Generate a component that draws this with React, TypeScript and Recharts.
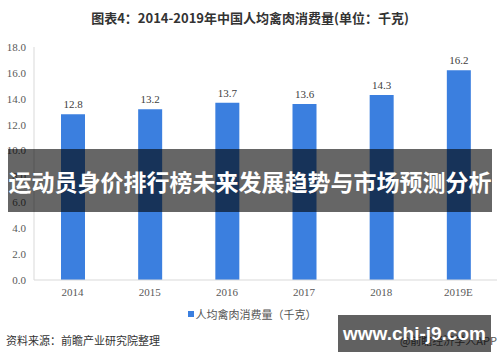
import React from "react";
import { BarChart, Bar, XAxis, YAxis, LabelList } from "recharts";

const years = ["2014", "2015", "2016", "2017", "2018", "2019E"];
const consumption = [12.8, 13.2, 13.7, 13.6, 14.3, 16.2];
const yTicks = [0, 2, 4, 6, 8, 10, 12, 14, 16, 18];
const seriesName = "人均禽肉消费量（千克）";
const titleText = "图表4：2014-2019年中国人均禽肉消费量(单位：千克)";
const sourceText = "资料来源：前瞻产业研究院整理";
const bannerText = "运动员身价排行榜未来发展趋势与市场预测分析";
const markText = "www.chi-j9.com";
const appText = "@前瞻经济学人APP";

const data = years.map((y, i) => ({ year: y, value: consumption[i] }));

const BLUE = "#3b7fdf";
const serif = "'Liberation Serif', 'DejaVu Serif', serif";
const cjk = "'Noto Sans CJK SC', 'Noto Sans', sans-serif";

export default function App() {
  return (
    <div style={{ position: "fixed", left: 0, top: 0, width: 500, height: 362, background: "#fff", overflow: "hidden" }}>
      <div style={{ position: "absolute", left: 0, top: 8, width: 500, textAlign: "center", fontFamily: cjk, fontWeight: 700, fontSize: 13, color: "#333", lineHeight: "20px" }}>
        {titleText}
      </div>
      <div style={{ position: "absolute", left: 0, top: 0 }}>
        <BarChart width={500} height={362} data={data} margin={{ top: 47, right: 3, bottom: 52, left: 0 }}>
          <XAxis
            dataKey="year"
            height={30}
            axisLine={{ stroke: "#d9d9d9" }}
            tickLine={false}
            tick={{ fontFamily: serif, fontSize: 11, fill: "#595959" }}
          />
          <YAxis
            domain={[0, 18]}
            ticks={yTicks}
            width={34}
            axisLine={{ stroke: "#d9d9d9" }}
            tickLine={false}
            tickFormatter={(v: number) => v.toFixed(1)}
            tick={{ fontFamily: serif, fontSize: 11, fill: "#595959" }}
          />
          <Bar dataKey="value" name={seriesName} fill={BLUE} barSize={24} isAnimationActive={false}>
            <LabelList dataKey="value" position="top" offset={6} style={{ fontFamily: serif, fontSize: 11, fill: "#404040" }} />
          </Bar>
        </BarChart>
      </div>
      <div style={{ position: "absolute", left: 0, top: 305, width: 504, display: "flex", justifyContent: "center", alignItems: "center", fontFamily: cjk, fontSize: 11, color: "#555", lineHeight: "18px" }}>
        <span style={{ display: "inline-block", width: 6, height: 6, background: BLUE, marginRight: 2 }} />
        <span>{seriesName}</span>
      </div>
      <div style={{ position: "absolute", left: 6, top: 331, fontFamily: cjk, fontSize: 11, color: "#333", lineHeight: "18px" }}>
        {sourceText}
      </div>
      <div style={{ position: "absolute", right: 3, top: 331, fontFamily: cjk, fontSize: 11, color: "#555", lineHeight: "18px" }}>
        {appText}
      </div>
      <div style={{ position: "absolute", left: 8, top: 149, width: 484, height: 63, background: "rgba(0,0,0,0.6)", display: "flex", alignItems: "center", justifyContent: "center" }}>
        <span style={{ fontFamily: cjk, fontWeight: 700, fontSize: 23, color: "#fff", whiteSpace: "nowrap", lineHeight: "30px" }}>{bannerText}</span>
      </div>
      <div style={{ position: "absolute", left: 338, top: 315, width: 153, height: 37, background: "rgba(0,0,0,0.62)", display: "flex", alignItems: "center", justifyContent: "center" }}>
        <span style={{ fontFamily: "'Liberation Sans', Arial, sans-serif", fontWeight: 700, fontSize: 19, color: "#fff" }}>{markText}</span>
      </div>
    </div>
  );
}
